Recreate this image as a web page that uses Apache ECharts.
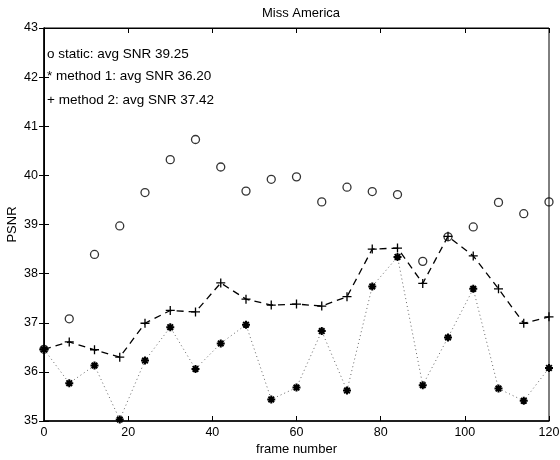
<!DOCTYPE html>
<html>
<head>
<meta charset="utf-8">
<script src="https://cdn.jsdelivr.net/npm/echarts@6/dist/echarts.min.js"></script>
<style>
    html, body { margin: 0; padding: 0; background: #fff; }
    #container { width: 560px; height: 460px; }
</style>
</head>
<body>
<div id="container"></div>
<script>
    // 帧号
    let frames = [0, 6, 12, 18, 24, 30, 36, 42, 48, 54, 60, 66, 72, 78, 84, 90, 96, 102, 108, 114, 120];
    // static (o)
    let staticSnr = [36.46, 37.08, 38.39, 38.97, 39.65, 40.32, 40.73, 40.17, 39.68, 39.92, 39.97, 39.46, 39.76, 39.67, 39.61, 38.25, 38.75, 38.95, 39.45, 39.22, 39.46];
    // method 1 (*)
    let method1Snr = [36.46, 35.77, 36.13, 35.03, 36.23, 36.91, 36.06, 36.58, 36.96, 35.44, 35.68, 36.83, 35.62, 37.74, 38.34, 35.73, 36.70, 37.69, 35.66, 35.41, 36.08];
    // method 2 (+)
    let method2Snr = [36.46, 36.61, 36.45, 36.30, 36.99, 37.25, 37.22, 37.81, 37.48, 37.36, 37.38, 37.34, 37.53, 38.50, 38.52, 37.80, 38.76, 38.36, 37.69, 36.99, 37.12];
    let xTicks = [0, 20, 40, 60, 80, 100, 120];
    let yTicks = [35, 36, 37, 38, 39, 40, 41, 42, 43];
    let legendLines = ['o static: avg SNR 39.25', '* method 1: avg SNR 36.20', '+ method 2: avg SNR 37.42'];

    let plusPath = 'path://M0,5L10,5M5,0L5,10';
    let starPath = 'path://M0,5L10,5M5,0L5,10M1.5,1.5L8.5,8.5M8.5,1.5L1.5,8.5';
    let font = 'Liberation Sans, Arial, sans-serif';

    function pairs(ys) {
        return frames.map(function(f, i) { return [f, ys[i]]; });
    }

    let dom = document.getElementById("container");
    let myChart = echarts.init(dom, null, {renderer: 'canvas'});

    let option = {
        backgroundColor: '#fff',
        animation: false,
        title: {
            text: 'Miss America',
            left: 296,
            top: 2,
            textAlign: 'center',
            textStyle: {fontFamily: font, fontSize: 13, fontWeight: 'normal', color: '#000'}
        },
        grid: {
            show: true, borderColor: '#000', borderWidth: 1,
            left: 44, right: 11, top: 28, bottom: 39,
            containLabel: false,
            outerBoundsMode: 'none'
        },
        graphic: legendLines.map(function(t, i) {
            return {
                type: 'text',
                left: 47,
                top: [47, 69, 93][i],
                style: {text: t, fontFamily: font, fontSize: 13.5, fill: '#000'}
            };
        }),
        xAxis: [{
            type: 'value',
            min: xTicks[0],
            max: xTicks[xTicks.length - 1],
            interval: 20,
            name: 'frame number',
            nameLocation: 'middle',
            nameGap: 22,
            nameMoveOverlap: false,
            nameTextStyle: {fontFamily: font, fontSize: 13, color: '#000'},
            axisLine: {lineStyle: {color: '#000', width: 1.5}},
            axisTick: {inside: true, length: 5, lineStyle: {color: '#000'}},
            axisLabel: {fontFamily: font, fontSize: 12.5, color: '#000', margin: 5},
            splitLine: {show: false}
        }, {
            type: 'value',
            position: 'top',
            min: xTicks[0],
            max: xTicks[xTicks.length - 1],
            interval: 20,
            axisLine: {lineStyle: {color: '#000'}},
            axisTick: {inside: true, length: 5, lineStyle: {color: '#000'}},
            axisLabel: {show: false},
            splitLine: {show: false}
        }],
        yAxis: [{
            type: 'value',
            min: yTicks[0],
            max: yTicks[yTicks.length - 1],
            interval: 1,
            name: 'PSNR',
            nameLocation: 'middle',
            nameGap: 25,
            nameMoveOverlap: false,
            nameTextStyle: {fontFamily: font, fontSize: 13, color: '#000'},
            axisLine: {lineStyle: {color: '#000', width: 1.5}},
            axisTick: {inside: true, length: 5, lineStyle: {color: '#000'}},
            axisLabel: {fontFamily: font, fontSize: 12.5, color: '#000', margin: 6},
            splitLine: {show: false}
        }, {
            type: 'value',
            position: 'right',
            min: yTicks[0],
            max: yTicks[yTicks.length - 1],
            interval: 1,
            axisLine: {lineStyle: {color: '#000'}},
            axisTick: {inside: true, length: 5, lineStyle: {color: '#000'}},
            axisLabel: {show: false},
            splitLine: {show: false}
        }],
        series: [{
            name: 'method 1',
            type: 'line',
            data: pairs(method1Snr),
            symbol: starPath,
            symbolSize: 8,
            itemStyle: {color: '#000', borderColor: '#000', borderWidth: 2},
            lineStyle: {color: '#666', width: 1, type: [1, 3]},
            z: 3
        }, {
            name: 'method 2',
            type: 'line',
            data: pairs(method2Snr),
            symbol: plusPath,
            symbolSize: 9,
            itemStyle: {color: 'none', borderColor: '#000', borderWidth: 1.3},
            lineStyle: {color: '#000', width: 1.3, type: [7, 5]},
            z: 4
        }, {
            name: 'static',
            type: 'scatter',
            data: pairs(staticSnr),
            symbol: 'circle',
            symbolSize: 8,
            itemStyle: {color: 'none', borderColor: '#000', borderWidth: 1.3},
            z: 5
        }]
    };

    myChart.setOption(option, true);
</script>
</body>
</html>
